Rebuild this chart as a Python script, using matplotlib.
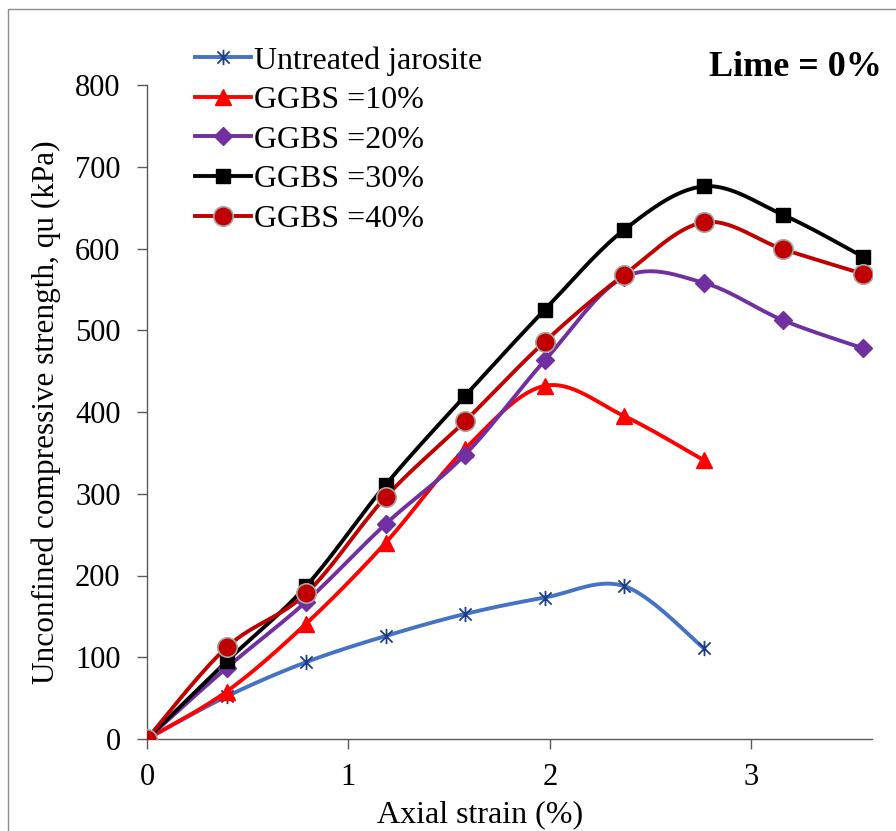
import numpy as np
import matplotlib.pyplot as plt
from matplotlib.patches import Rectangle
from matplotlib.path import Path

plt.rcParams['font.family'] = ['Liberation Serif', 'DejaVu Serif']

# Axial strain (%) at each reading
strain = [0, 0.395, 0.79, 1.185, 1.58, 1.975, 2.37, 2.765, 3.16, 3.555]

# Unconfined compressive strength, qu (kPa)
untreated = [0, 52, 94, 126, 153, 173, 187, 111]
ggbs10 = [0, 58, 141, 240, 355, 432, 395, 341]
ggbs20 = [0, 87, 168, 263, 348, 463, 565, 558, 512, 478]
ggbs30 = [0, 95, 187, 311, 420, 525, 623, 676, 641, 590]
ggbs40 = [0, 112, 178, 296, 389, 486, 568, 632, 599, 569]

labels = ['Untreated jarosite', 'GGBS =10%', 'GGBS =20%', 'GGBS =30%', 'GGBS =40%']


def smooth(x, y, n=30):
    # excel-like smoothed line (catmull-rom bezier)
    x = np.asarray(x, float)
    y = np.asarray(y, float)
    px = np.concatenate([[x[0]], x, [x[-1]]])
    py = np.concatenate([[y[0]], y, [y[-1]]])
    xs, ys = [], []
    t = np.linspace(0, 1, n)
    for i in range(1, len(px) - 2):
        p0 = np.array([px[i], py[i]])
        p3 = np.array([px[i + 1], py[i + 1]])
        p1 = p0 + (np.array([px[i + 1], py[i + 1]]) - np.array([px[i - 1], py[i - 1]])) / 6
        p2 = p3 - (np.array([px[i + 2], py[i + 2]]) - np.array([px[i], py[i]])) / 6
        b = ((1 - t) ** 3)[:, None] * p0 + (3 * (1 - t) ** 2 * t)[:, None] * p1 \
            + (3 * (1 - t) * t ** 2)[:, None] * p2 + (t ** 3)[:, None] * p3
        xs.extend(b[:, 0])
        ys.extend(b[:, 1])
    return xs, ys


# asterisk marker: X plus a vertical bar
star = Path([(-1, -1), (1, 1), (-1, 1), (1, -1), (0, -1.25), (0, 1.25)],
            [Path.MOVETO, Path.LINETO, Path.MOVETO, Path.LINETO, Path.MOVETO, Path.LINETO])

fig = plt.figure(figsize=(8.96, 8.31), dpi=100)
ax = fig.add_axes([147 / 896, 1 - 739 / 831, (872 - 147) / 896, (739 - 85) / 831])

styles = [
    dict(color='#4472C4', marker=star, ms=11, mec='#1F3C88', mfc='none', mew=1.3),
    dict(color='#FF0000', marker='^', ms=11, mec='#FF0000', mfc='#FF0000'),
    dict(color='#7030A0', marker='D', ms=9, mec='#7030A0', mfc='#7030A0'),
    dict(color='#000000', marker='s', ms=10, mec='#000000', mfc='#000000'),
    dict(color='#C00000', marker='o', ms=14, mec='#A6A6A6', mfc='#C00000', mew=1.2),
]

series = [untreated, ggbs10, ggbs20, ggbs30, ggbs40]
for vals, st, lab in zip(series, styles, labels):
    xx = strain[:len(vals)]
    sx, sy = smooth(xx, vals)
    ax.plot(sx, sy, color=st['color'], lw=2.8, zorder=2)
    ax.plot(xx, vals, linestyle='none', marker=st['marker'], ms=st['ms'],
            mec=st['mec'], mfc=st['mfc'], mew=st.get('mew', 1), zorder=3)
    ax.plot([], [], color=st['color'], lw=2.8, marker=st['marker'], ms=st['ms'],
            mec=st['mec'], mfc=st['mfc'], mew=st.get('mew', 1), label=lab)

ax.set_xlim(0, 3.6)
ax.set_ylim(0, 800)
ax.set_xticks([0, 1, 2, 3])
ax.set_yticks(range(0, 801, 100))
ax.spines['top'].set_visible(False)
ax.spines['right'].set_visible(False)
for s in ['left', 'bottom']:
    ax.spines[s].set_color('#595959')
    ax.spines[s].set_linewidth(1)
ax.tick_params(direction='out', length=7, width=1, color='#595959', labelsize=22)
ax.tick_params(axis='x', pad=10)
ax.tick_params(axis='y', pad=12)

ax.set_xlabel('Axial strain (%)', fontsize=23)
ax.xaxis.set_label_coords((480 - 147) / 725, -(815 - 739) / 654)
ax.xaxis.label.set_va('center')
ax.set_ylabel('Unconfined compressive strength, qu (kPa)', fontsize=22.5)
ax.yaxis.set_label_coords(-(147 - 46) / 725, (739 - 412) / 654)
ax.yaxis.label.set_va('center')

ax.legend(loc='upper left', bbox_to_anchor=(48 / 725, 1 + 39 / 654), frameon=False,
          fontsize=23, handlelength=1.75, handletextpad=0.1, labelspacing=0.32,
          borderpad=0, borderaxespad=0, numpoints=1)

fig.text(882 / 896, 1 - 67 / 831, 'Lime = 0%', fontsize=26, fontweight='bold',
         ha='right', va='center')

fig.patches.append(Rectangle((8 / 896, -0.05), 1.1, 1 - 9 / 831 + 0.05,
                             transform=fig.transFigure, fill=False,
                             edgecolor='#8C8C8C', lw=1))

fig.savefig('out.png', dpi=100)
